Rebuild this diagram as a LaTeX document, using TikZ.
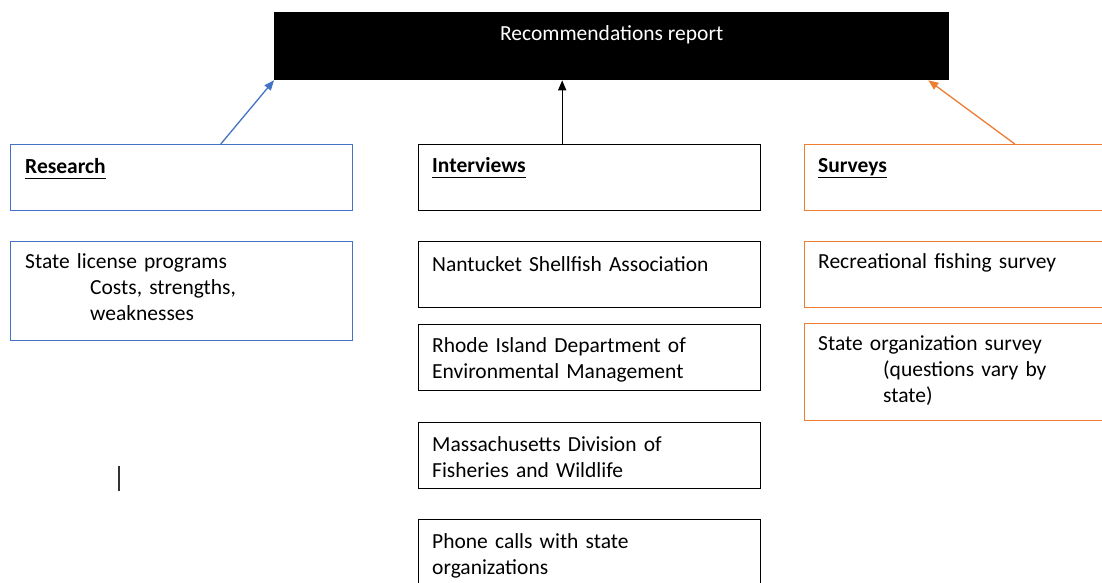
\documentclass[tikz,border=0pt]{standalone}
\usepackage{fontspec}
\setmainfont{Carlito}
\usetikzlibrary{calc,arrows.meta,positioning}
\definecolor{wordblue}{HTML}{4472C4}
\definecolor{wordorange}{HTML}{ED7D31}
\newcommand{\headul}[1]{\setbox0\hbox{\textbf{#1}}\rlap{\rule[-6pt]{\wd0}{1.3pt}}\box0}
\newcommand{\indentline}{\hspace*{65pt}}

\begin{document}
\begin{tikzpicture}[%
    x=1pt, y=-1pt,%
    box/.style={draw=#1, rectangle, line width=1.3pt, anchor=north west,%
      inner sep=0pt, minimum width=342pt, minimum height=66pt},%
    box/.default=black,%
    txt/.style={anchor=base west, inner sep=0pt, text width=330pt, align=left,%
      font=\fontsize{21.5}{26}\selectfont},%
    link/.style={line width=1.3pt, -{Triangle[length=10pt,width=8pt]}},%
  ]
  %
  % Définitions
  %
  \pgfmathsetmacro{\xa}{10};%
  \pgfmathsetmacro{\xb}{418};%
  \pgfmathsetmacro{\xc}{804};%
  \pgfmathsetmacro{\yhead}{144};%
  \pgfmathsetmacro{\yone}{241};%

  \useasboundingbox (0,0) rectangle (1102,583);

  %
  % Dessin
  %
  % Rapport
  \node[box, fill=black, minimum width=674pt, minimum height=67pt] (report) at (274,12) {};
  \node[txt, anchor=base, text width=, text=white] (report-t) at ($(report.north)+(0,29)$) {Recommendations report};

  % Research
  \node[box=wordblue] (research) at (\xa,\yhead) {};
  \node[txt] (research-t) at ($(research.north west)+(15,29)$) {\headul{Research}};
  \node[box=wordblue, minimum height=99pt] (programs) at (\xa,\yone) {};
  \node[txt] (programs-t) at ($(programs.north west)+(15,27)$)
    {State license programs\\\indentline Costs, strengths,\\\indentline weaknesses};

  % Interviews
  \node[box] (interviews) at (\xb,\yhead) {};
  \node[txt] (interviews-t) at ($(interviews.north west)+(14,28)$) {\headul{Interviews}};
  \node[box] (nantucket) at (\xb,\yone) {};
  \node[txt] (nantucket-t) at ($(nantucket.north west)+(14,30)$) {Nantucket Shellfish Association};
  \node[box] (rhode) at (\xb,324) {};
  \node[txt] (rhode-t) at ($(rhode.north west)+(14,28)$) {Rhode Island Department of\\Environmental Management};
  \node[box] (mass) at (\xb,422) {};
  \node[txt] (mass-t) at ($(mass.north west)+(14,29)$) {Massachusetts Division of\\Fisheries and Wildlife};
  \node[box] (phone) at (\xb,519) {};
  \node[txt] (phone-t) at ($(phone.north west)+(14,29)$) {Phone calls with state\\organizations};

  % Surveys
  \node[box=wordorange] (surveys) at (\xc,\yhead) {};
  \node[txt] (surveys-t) at ($(surveys.north west)+(14,28)$) {\headul{Surveys}};
  \node[box=wordorange] (recfish) at (\xc,\yone) {};
  \node[txt] (recfish-t) at ($(recfish.north west)+(14,27)$) {Recreational fishing survey};
  \node[box=wordorange, minimum height=97pt] (stateorg) at (\xc,323) {};
  \node[txt] (stateorg-t) at ($(stateorg.north west)+(14,27)$)
    {State organization survey\\\indentline(questions vary by\\\indentline state)};

  % Flèches
  \draw[link, wordblue] ($(research.north west)!0.614!(research.north east)$) -- (report.south west);
  \coordinate (interviews-top) at ($(interviews.north west)!0.42!(interviews.north east)$);
  \draw[link] (interviews-top) -- (interviews-top |- report.south);
  \draw[link, wordorange] ($(surveys.north west)!0.614!(surveys.north east)$)
    -- ($(report.south west)!0.969!(report.south east)$);

  % Curseur
  \coordinate (cursor) at (119,466);
  \draw[line width=1.5pt, black!80] (cursor) -- ++(0,25);

\end{tikzpicture}
\end{document}
